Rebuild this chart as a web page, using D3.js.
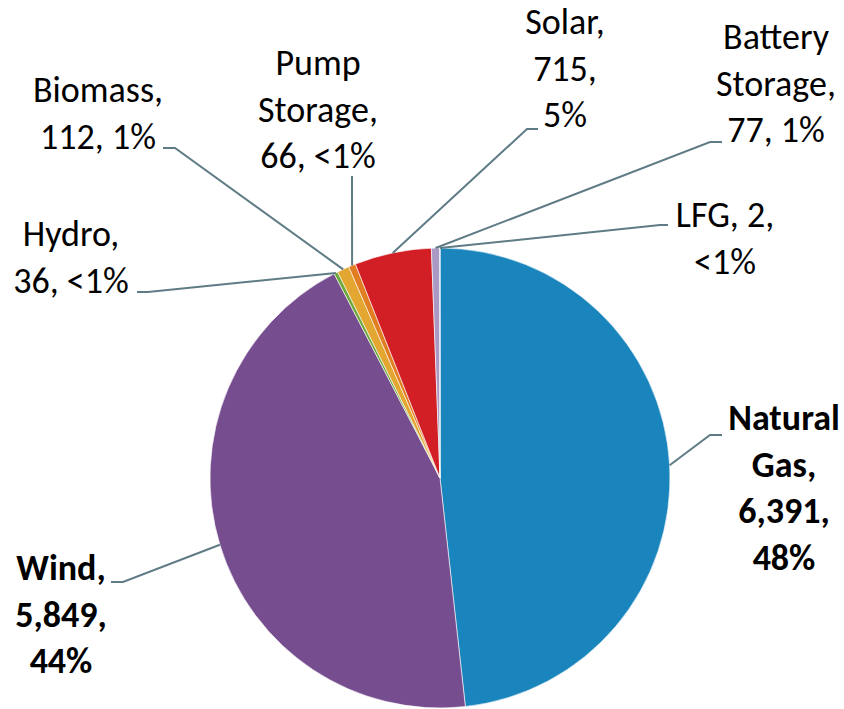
<!DOCTYPE html>
<html>
<head>
  <meta charset="utf-8">
  <script src="https://d3js.org/d3.v7.min.js"></script>
  <style>
    body { margin: 0; background: #fff; }
    text { font-family: Carlito, Calibri, Lato, sans-serif; fill: #000; }
  </style>
</head>
<body>
  <div id="chart"></div>
  <script>
    // data, clockwise from 12 o'clock
    var sources = ["Natural Gas", "Wind", "Hydro", "Biomass", "Pump Storage", "Solar", "Battery Storage", "LFG"];
    var values = [6391, 5849, 36, 112, 66, 715, 77, 2];
    var colors = ["#1a85bd", "#764d8f", "#6fa83a", "#e3a630", "#e07e21", "#d21e25", "#a999c4", "#8fb3d9"];
    var bold = [true, true, false, false, false, false, false, false];

    // label layout: text centre x, first baseline y, elbow of leader, end of leader, words per line
    var labelLayout = [
      {x: 784, y: 430, ex: 710, ey: 435, tx: 722, groups: [1, 1, 1, 1]},
      {x: 61,  y: 580, ex: 123, ey: 582, tx: 111, groups: [1, 1, 1]},
      {x: 71,  y: 246, ex: 148, ey: 292, tx: 137, groups: [1, 2]},
      {x: 98,  y: 102, ex: 175, ey: 148, tx: 163, groups: [1, 2]},
      {x: 318, y: 75,  ex: 352, ey: 176, tx: 352, groups: [1, 1, 2]},
      {x: 565, y: 34,  ex: 527, ey: 129, tx: 538, groups: [1, 1, 1]},
      {x: 776, y: 49,  ex: 710, ey: 142, tx: 722, groups: [1, 1, 2]},
      {x: 725, y: 227, ex: 660, ey: 225, tx: 668, groups: [2, 1]}
    ];

    var W = 844, H = 709, cx = 440, cy = 478, r = 230, lineH = 46.5;

    var svg = d3.select("#chart").append("svg")
      .attr("width", W)
      .attr("height", H);

    var data = sources.map(function(s, i) { return {name: s, value: values[i], i: i}; });
    var total = d3.sum(values);

    var pie = d3.pie().sort(null).value(function(d) { return d.value; });
    var arcs = pie(data);
    var arc = d3.arc().innerRadius(0).outerRadius(r);
    var edge = d3.arc().innerRadius(r).outerRadius(r);

    var g = svg.append("g").attr("transform", "translate(" + cx + "," + cy + ")");

    g.selectAll("path.slice")
      .data(arcs)
      .enter()
      .append("path")
      .attr("class", "slice")
      .attr("d", arc)
      .attr("fill", function(d) { return colors[d.data.i]; })
      .attr("stroke", "#fff")
      .attr("stroke-width", 0.6);

    var fmt = d3.format(",");
    function pctText(v) {
      var p = Math.round(v / total * 100);
      return p < 1 ? "<1%" : p + "%";
    }

    // leader lines
    svg.selectAll("polyline.leader")
      .data(arcs)
      .enter()
      .append("polyline")
      .attr("class", "leader")
      .attr("points", function(d) {
        var c = edge.centroid(d);
        var L = labelLayout[d.data.i];
        return [[cx + c[0], cy + c[1]], [L.ex, L.ey], [L.tx, L.ey]].map(function(p) { return p.join(","); }).join(" ");
      })
      .attr("fill", "none")
      .attr("stroke", "#5f7c86")
      .attr("stroke-width", 2);

    // labels
    data.forEach(function(d) {
      var L = labelLayout[d.i];
      var words = d.name.split(" ");
      words[words.length - 1] += ",";
      words.push(fmt(d.value) + ",");
      words.push(pctText(d.value));
      var lines = [], k = 0;
      L.groups.forEach(function(n) {
        lines.push(words.slice(k, k + n).join(" "));
        k += n;
      });
      var t = svg.append("text")
        .attr("text-anchor", "middle")
        .style("font-size", "36px")
        .style("font-weight", bold[d.i] ? "bold" : "normal");
      lines.forEach(function(line, j) {
        t.append("tspan")
          .attr("x", L.x)
          .attr("y", L.y + j * lineH)
          .text(line);
      });
    });
  </script>
</body>
</html>
